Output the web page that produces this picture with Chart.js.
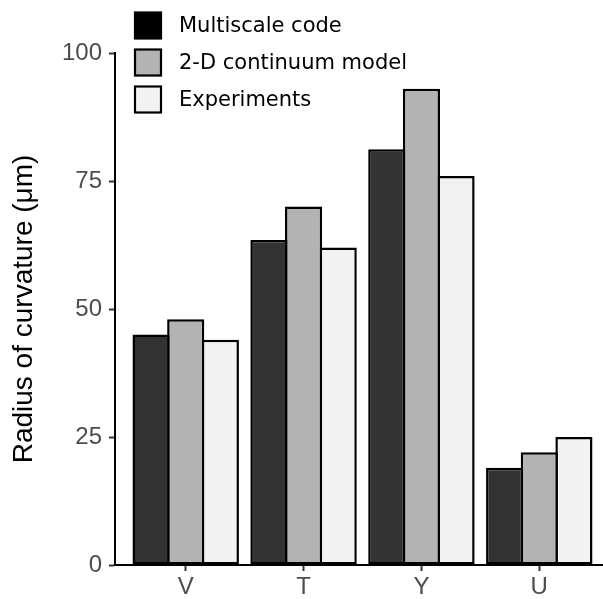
<!DOCTYPE html>
<html>
<head>
<meta charset="utf-8">
<script src="https://cdn.jsdelivr.net/npm/chart.js@4.4.1/dist/chart.umd.min.js"></script>
<style>
  html, body { margin: 0; padding: 0; background: #fff; overflow: hidden; }
  #wrap { width: 603px; height: 599px; overflow: hidden; }
  canvas { display: block; }
</style>
</head>
<body>
<div id="wrap"><canvas id="c" width="612" height="599"></canvas></div>
<script>
// Shapes and measured radius of curvature (µm)
const categories = ['V', 'T', 'Y', 'U'];
const multiscale = [45, 63.5, 81.2, 19];
const continuum2d = [48, 70, 93, 22];
const experiments = [44, 62, 76, 25];
const yTicks = [0, 25, 50, 75, 100];

const seriesNames = ['Multiscale code', '2-D continuum model', 'Experiments'];
const barColors = ['#333333', '#b3b3b3', '#f2f2f2'];
const keyColors = ['#000000', '#b3b3b3', '#f2f2f2'];

const toPoints = arr => arr.map((v, i) => ({ x: i + 1, y: v }));

const tickFont = { family: '"Liberation Sans", Arial, sans-serif', size: 24 };

// Key in the upper-left corner, drawn on the canvas
const keyPlugin = {
  id: 'cornerKey',
  afterDraw(chart) {
    const ctx = chart.ctx;
    ctx.save();
    ctx.font = '21px "DejaVu Sans", sans-serif';
    ctx.textBaseline = 'middle';
    ctx.textAlign = 'left';
    seriesNames.forEach((name, i) => {
      const top = 12.5 + i * 37;
      ctx.fillStyle = keyColors[i];
      ctx.fillRect(135, top, 26, 26);
      ctx.strokeStyle = '#000';
      ctx.lineWidth = 2.2;
      ctx.strokeRect(135, top, 26, 26);
      ctx.fillStyle = '#000';
      ctx.fillText(name, 179, top + 14);
    });
    ctx.restore();
  }
};

new Chart(document.getElementById('c'), {
  type: 'bar',
  data: {
    datasets: [multiscale, continuum2d, experiments].map((vals, i) => ({
      label: seriesNames[i],
      data: toPoints(vals),
      backgroundColor: barColors[i],
      borderColor: '#000',
      borderWidth: 2.5,
      borderSkipped: false,
      categoryPercentage: 0.882,
      barPercentage: 1.072
    }))
  },
  options: {
    responsive: false,
    animation: false,
    devicePixelRatio: 1,
    layout: { padding: { top: 53, right: 2, left: 0, bottom: 0 } },
    plugins: { legend: { display: false }, tooltip: { enabled: false } },
    scales: {
      x: {
        type: 'linear',
        min: 0.4,
        max: 4.6,
        offset: false,
        afterBuildTicks: s => { s.ticks = categories.map((c, i) => ({ value: i + 1 })); },
        afterFit: s => { s.height = 34; },
        ticks: {
          callback: v => categories[v - 1],
          font: tickFont,
          color: '#4d4d4d',
          padding: 2,
          autoSkip: false,
          maxRotation: 0
        },
        grid: { display: true, offset: false, drawOnChartArea: false, drawTicks: true, tickLength: 6, tickWidth: 2, tickColor: '#333' },
        border: { display: true, color: '#000', width: 2 }
      },
      y: {
        min: 0,
        max: 100,
        afterBuildTicks: s => { s.ticks = yTicks.map(v => ({ value: v })); },
        afterFit: s => { s.width = 115; },
        ticks: { font: tickFont, color: '#4d4d4d', padding: 7 },
        grid: { display: true, drawOnChartArea: false, drawTicks: true, tickLength: 6, tickWidth: 2, tickColor: '#333' },
        border: { display: true, color: '#000', width: 2 },
        title: {
          display: true,
          text: 'Radius of curvature (μm)',
          color: '#000',
          font: { family: '"Liberation Sans", Arial, sans-serif', size: 28 },
          padding: { top: 7, bottom: 0 }
        }
      }
    }
  },
  plugins: [keyPlugin]
});
</script>
</body>
</html>
